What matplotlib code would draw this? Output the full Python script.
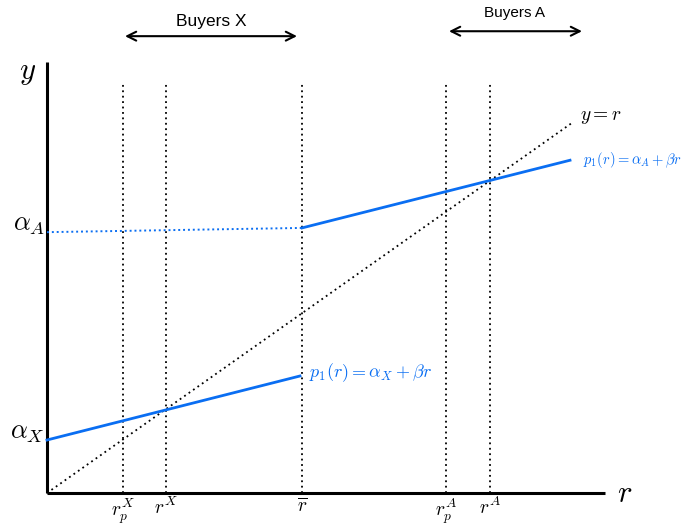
import matplotlib
matplotlib.use("Agg")
import matplotlib.pyplot as plt

plt.rcParams['mathtext.fontset'] = 'cm'

# Data (economic units; y = r is the 45-degree reference)
xpos_names = [r'$r_p^X$', r'$r^X$', r'$\overline{r}$', r'$r_p^A$', r'$r^A$']
xpos_vals = [0.76, 1.19, 2.55, 3.99, 4.43]
vline_top = 5.83

axis_x_end = 5.58
axis_y_end = 6.11

diag_r = [0.0, 5.26]
diag_y = [0.0, 5.26]

lineX_r = [0.0, 2.53]
lineX_y = [0.752, 1.66]

lineA_dot_r = [0.0, 2.55]
lineA_dot_y = [3.70, 3.76]
lineA_r = [2.55, 5.23]
lineA_y = [3.76, 4.72]

alpha_labels = [r'$\alpha_A$', r'$\alpha_X$']
alpha_vals = [3.70, 0.752]

blue = '#0a6ef2'

fig = plt.figure(figsize=(6.96, 5.27), dpi=100)
ax = fig.add_axes([0, 0, 1, 1])
ax.set_xlim(-0.47, 6.49)
ax.set_ylim(-0.482, 6.993)
ax.axis('off')

# axes
ax.plot([0, axis_x_end], [0, 0], color='black', lw=2.2, solid_capstyle='butt')
ax.plot([0, 0], [0, axis_y_end], color='black', lw=2.2, solid_capstyle='butt')
ax.text(5.78, 0.0, r'$r$', fontsize=22, ha='center', va='center')
ax.text(-0.19, 5.97, r'$y$', fontsize=22, ha='center', va='center')

# vertical dotted lines and labels
for name, v in zip(xpos_names, xpos_vals):
    ax.plot([v, v], [0, vline_top], color='black', lw=1.3, ls=(0, (1, 2)))
    ax.text(v, -0.05, name, fontsize=14, ha='center', va='top')

# diagonal
ax.plot(diag_r, diag_y, color='black', lw=1.3, ls=(0, (1, 2)))
ax.text(5.33, 5.34, r'$y = r$', fontsize=14, ha='left', va='center')

# price lines
ax.plot(lineX_r, lineX_y, color=blue, lw=2)
ax.plot(lineA_dot_r, lineA_dot_y, color=blue, lw=1.4, ls=(0, (1, 1.5)))
ax.plot(lineA_r, lineA_y, color=blue, lw=2)
ax.text(2.62, 1.71, r'$p_1(r) = \alpha_X + \beta r$', fontsize=13, color=blue,
        ha='left', va='center')
ax.text(5.36, 4.72, r'$p_1(r) = \alpha_A + \beta r$', fontsize=10.5, color=blue,
        ha='left', va='center')

# alpha labels
for lab, v in zip(alpha_labels, alpha_vals):
    ax.text(-0.02, v + 0.12, lab, fontsize=19, ha='right', va='center')

# Buyers arrows
ax.annotate('', xy=(0.78, 6.48), xytext=(2.50, 6.48),
            arrowprops=dict(arrowstyle='<->', lw=1.5, color='black',
                            shrinkA=0, shrinkB=0, mutation_scale=16))
ax.text(1.64, 6.69, 'Buyers X', fontsize=12.5, ha='center', va='center',
        family='Liberation Sans')
ax.annotate('', xy=(4.02, 6.55), xytext=(5.35, 6.55),
            arrowprops=dict(arrowstyle='<->', lw=1.5, color='black',
                            shrinkA=0, shrinkB=0, mutation_scale=16))
ax.text(4.68, 6.81, 'Buyers A', fontsize=11, ha='center', va='center',
        family='Liberation Sans')

fig.savefig('out.png', dpi=100)
